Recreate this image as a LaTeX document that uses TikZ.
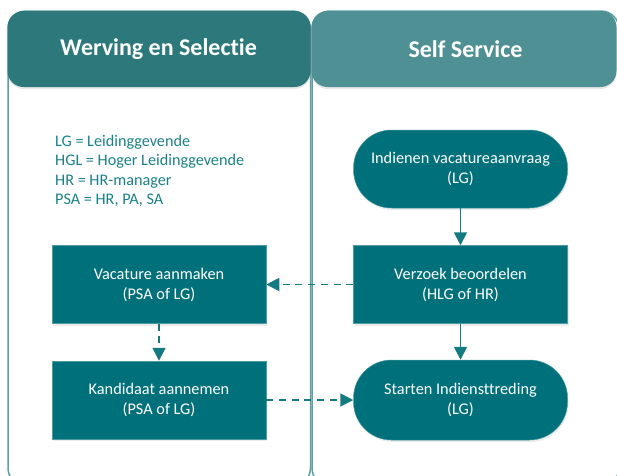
\documentclass[tikz,border=0pt]{standalone}
\usepackage{fontspec}
\setmainfont{Carlito}[Ligatures=NoCommon]
\usetikzlibrary{arrows.meta,shadows,positioning}
\definecolor{boxfill}{HTML}{00707B}
\definecolor{headA}{HTML}{2D787B}
\definecolor{headB}{HTML}{4F9094}
\definecolor{laneline}{HTML}{5D9EA3}
\definecolor{arrowc}{HTML}{137A82}
\definecolor{legendc}{HTML}{1A8087}
\begin{document}
\begin{tikzpicture}[x=1pt,y=-1pt,
  lane/.style={draw=laneline,line width=1.5pt,rounded corners=18pt},
  header/.style={rounded corners=16pt,drop shadow={opacity=0.18,shadow xshift=0pt,shadow yshift=-2pt}},
  headtext/.style={text=white,font=\fontsize{24}{28}\selectfont\bfseries},
  procbox/.style={fill=boxfill,draw=boxfill!70!white,line width=0.5pt,text=white,minimum width=214pt,minimum height=78pt,align=center,inner sep=0pt,
     font=\fontsize{16.3}{20}\selectfont,drop shadow={opacity=0.15,shadow xshift=1pt,shadow yshift=-2pt}},
  termbox/.style={procbox,rounded corners=38pt},
  flow/.style={draw=arrowc,line width=1.8pt,-{Triangle[length=13pt,width=13pt]}},
  dflow/.style={flow,dash pattern=on 7pt off 5.7pt},
]
\useasboundingbox (0,0) rectangle (617,475);
% lanes
\draw[lane] (8,11) rectangle (310.5,486);
\draw[lane] (312,11) rectangle (619,486);
\fill[headA,header] (7.5,11) rectangle (310.5,87);
\fill[headB,header] (311.5,11) rectangle (616.5,87);
\node[headtext] (h1) at (158.5,49) {Werving en Selectie};
\node[headtext] (h2) at (465.5,49) {Self Service};
% legend
\node[anchor=north west,align=left,inner sep=0pt,text=legendc,font=\fontsize{16.2}{19.5}\selectfont] (legend) at (55,135)
  {LG = Leidinggevende\\HGL = Hoger Leidinggevende\\HR = HR-manager\\PSA = HR, PA, SA};
% nodes
\node[termbox] (ind) at (460.5,169) {Indienen vacatureaanvraag\\(LG)};
\node[procbox] (ver) at (460.5,284.5) {Verzoek beoordelen\\(HLG of HR)};
\node[termbox,minimum height=80pt] (sta) at (460.5,400) {Starten Indiensttreding\\(LG)};
\node[procbox] (vac) at (159,284.5) {Vacature aanmaken\\(PSA of LG)};
\node[procbox] (kan) at (159,400) {Kandidaat aannemen\\(PSA of LG)};
% connectors
\draw[flow] (ind) -- (ver);
\draw[flow] (ver) -- (sta);
\draw[dflow] (ver) -- (vac);
\draw[dflow] (vac) -- (kan);
\draw[dflow] (kan) -- (sta);
\end{tikzpicture}
\end{document}
